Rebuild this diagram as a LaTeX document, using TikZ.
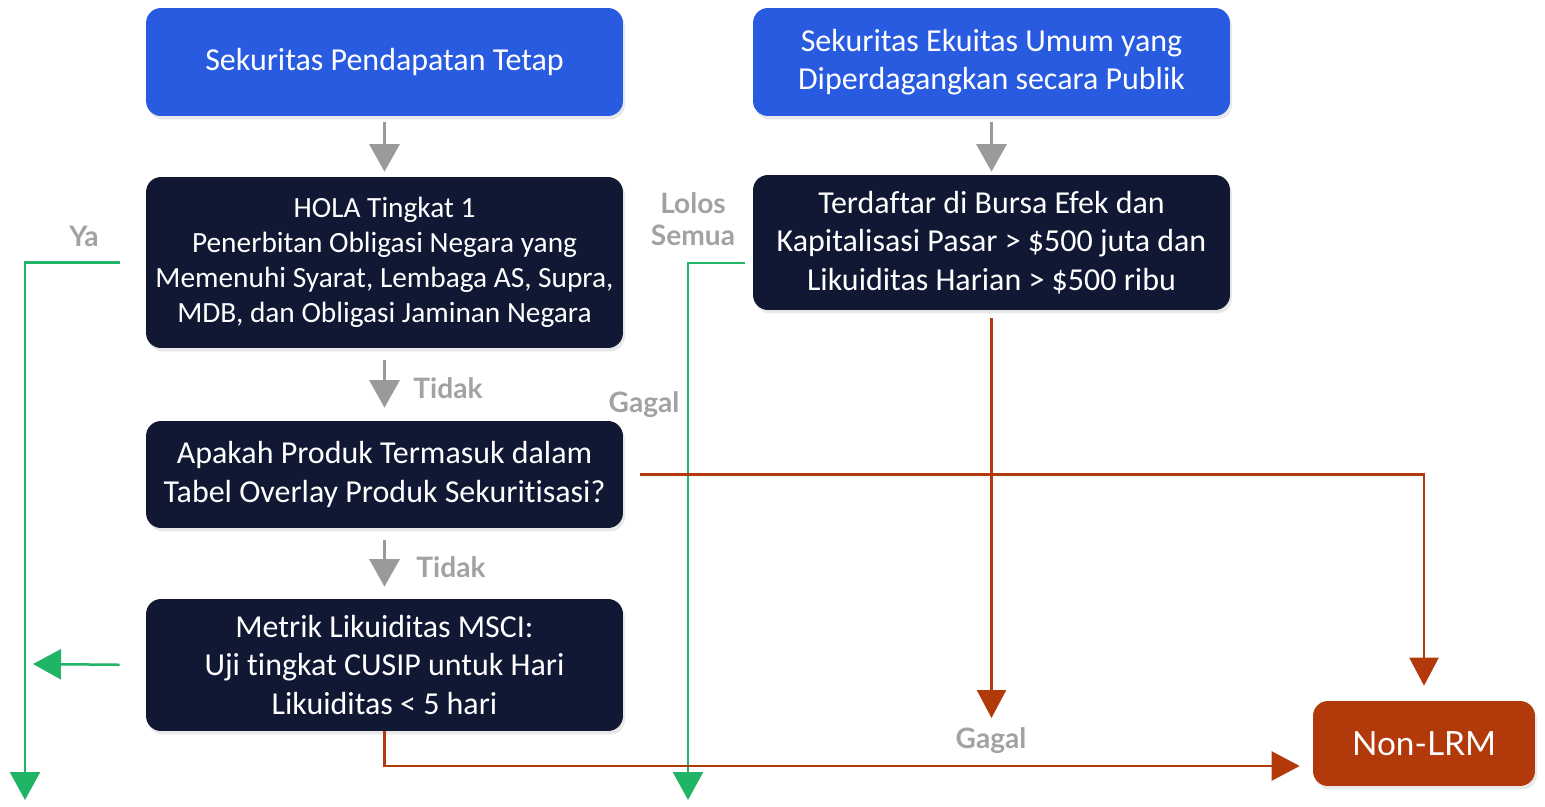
\documentclass[tikz,border=0pt]{standalone}
\usepackage{fontspec}
\setmainfont{Carlito}[Ligatures=NoCommon]
\newfontfamily\labelfont{Lato}
\usetikzlibrary{arrows.meta,shadows}
\definecolor{biru}{HTML}{285BE0}
\definecolor{navy}{HTML}{111833}
\definecolor{oranye}{HTML}{B23A0A}
\definecolor{hijau}{HTML}{1FB466}
\definecolor{abu}{HTML}{9A9A9A}
\definecolor{abuteks}{HTML}{A2A2A2}
\begin{document}
\begin{tikzpicture}[x=0.02cm,y=-0.02cm]
            \tikzstyle{kotak}=[rounded corners=0.3cm,text=white,align=center,minimum width=9.54cm,
                font=\fontsize{18.2}{22}\selectfont,inner sep=0pt,
                drop shadow={opacity=0.18,shadow xshift=0.04cm,shadow yshift=-0.07cm}]
            \tikzstyle{kotakbiru}=[kotak,fill=biru]
            \tikzstyle{kotakgelap}=[kotak,fill=navy]
            \tikzstyle{label}=[text=abuteks,font=\labelfont\bfseries\fontsize{16}{18}\selectfont,align=center]
            \tikzstyle{panahabu}=[draw=abu,line width=0.06cm,-{Triangle[width=0.6cm,length=0.55cm]}]
            \tikzstyle{panahhijau}=[draw=hijau,line width=0.05cm,-{Triangle[width=0.6cm,length=0.56cm]}]
            \tikzstyle{panahoranye}=[draw=oranye,line width=0.05cm,-{Triangle[width=0.58cm,length=0.56cm]}]

            \useasboundingbox (0,0) rectangle (1545,807);

            %kotak kotak
            \node[kotakbiru,minimum height=2.16cm] (pendapatan) at (384.5,62) {Sekuritas Pendapatan Tetap};
            \node[kotakbiru,minimum height=2.16cm] (ekuitas) at (991.5,62) {Sekuritas Ekuitas Umum yang\\Diperdagangkan secara Publik};
            \node[kotakgelap,minimum height=3.42cm,font=\fontsize{16.7}{19.9}\selectfont] (hola) at (384.5,262.5) {HOLA Tingkat 1\\Penerbitan Obligasi Negara yang\\Memenuhi Syarat, Lembaga AS, Supra,\\MDB, dan Obligasi Jaminan Negara};
            \node[kotakgelap,minimum height=2.7cm] (bursa) at (991.5,242.5) {Terdaftar di Bursa Efek dan\\Kapitalisasi Pasar > \$500 juta dan\\Likuiditas Harian > \$500 ribu};
            \node[kotakgelap,minimum height=2.14cm] (overlay) at (384.5,474.5) {Apakah Produk Termasuk dalam\\Tabel Overlay Produk Sekuritisasi?};
            \node[kotakgelap,minimum height=2.64cm] (metrik) at (384.5,665) {Metrik Likuiditas MSCI:\\Uji tingkat CUSIP untuk Hari\\Likuiditas < 5 hari};
            \node[kotak,fill=oranye,minimum width=4.44cm,minimum height=1.7cm,
                font=\labelfont\fontsize{19}{22}\selectfont] (nonlrm) at (1424,743.5) {Non-LRM};

            %ujung bebas
            \coordinate (yaujung) at (25,800);
            \coordinate (lolosujung) at (688,800);
            \coordinate (metrikujung) at (33,664);
            \coordinate (bursaujung) at (991.5,718);

            %panah abu
            \draw[panahabu,shorten <=0.12cm,shorten >=0.1cm] (pendapatan.south) -- (hola.north);
            \draw[panahabu,shorten <=0.12cm,shorten >=0.06cm] (ekuitas.south) -- (bursa.north);
            \draw[panahabu,shorten <=0.24cm,shorten >=0.26cm] (hola.south) -- (overlay.north);
            \draw[panahabu,shorten <=0.24cm,shorten >=0.24cm] (overlay.south) -- (metrik.north);

            %panah hijau
            \draw[panahhijau,shorten <=0.52cm] (hola.west) -| (yaujung);
            \draw[panahhijau,shorten <=0.52cm] (metrik.west) -- (metrikujung);
            \draw[panahhijau,shorten <=0.16cm] ([yshift=-0.41cm]bursa.west) -| (lolosujung);

            %panah oranye
            \draw[panahoranye,shorten <=0.34cm,shorten >=0.3cm] (overlay.east) -| (nonlrm.north);
            \draw[panahoranye,shorten <=0.16cm] (bursa.south) -- (bursaujung);
            \draw[panahoranye,shorten >=0.26cm] (metrik.south) |- ([yshift=-0.45cm]nonlrm.west);

            %label
            \node[label] (ya) at (84,236) {Ya};
            \node[label] (lolos) at (693,219) {Lolos\\Semua};
            \node[label] (tidaksatu) at (448,388) {Tidak};
            \node[label] (tidakdua) at (451,567) {Tidak};
            \node[label] (gagalsatu) at (644,405) {Gagal};
            \node[label] (gagaldua) at (991,741) {Gagal};

\end{tikzpicture}
\end{document}
